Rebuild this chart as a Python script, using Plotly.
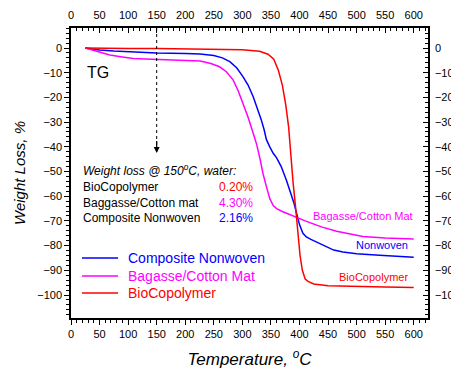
import plotly.graph_objects as go

# ---- data ----
bio_t = [25, 50, 100, 150, 200, 250, 300, 330, 345, 355, 363, 370, 376, 381, 385, 389, 393, 397, 401, 405, 410, 415, 425, 450, 500, 550, 600]
bio_w = [0, -0.1, -0.15, -0.2, -0.3, -0.4, -0.7, -1.3, -2.5, -4.5, -9, -15, -23, -32, -44, -55, -64, -74, -84, -90, -93.5, -94.5, -95.5, -96.2, -96.6, -96.8, -97]

comp_t = [25, 50, 75, 100, 125, 150, 200, 226, 250, 265, 278, 290, 301, 310, 319, 326, 333, 338, 342, 348, 354, 360, 368, 377, 384, 390, 395, 400, 406, 412, 420, 430, 445, 460, 476, 500, 540, 570, 600]
comp_w = [0, -0.8, -1.2, -1.5, -1.8, -2.0, -2.2, -2.4, -3, -4, -5.5, -8, -11.6, -15, -19.7, -24, -29, -33, -37, -40, -42.6, -44.5, -48, -53.4, -58, -62.5, -67, -71.5, -75, -76.5, -77.5, -78.5, -80.3, -81.8, -82.6, -83.3, -83.9, -84.3, -84.7]

bag_t = [25, 38, 50, 68, 90, 109, 130, 153, 200, 226, 245, 260, 272, 284, 293, 301, 310, 319, 325, 331, 336, 342, 348, 354, 360, 370, 380, 395, 410, 424, 440, 465, 490, 511, 550, 600]
bag_w = [0, -0.8, -1.6, -2.8, -3.6, -4.2, -4.45, -4.6, -4.9, -5.3, -6.3, -7.6, -9.6, -13, -17.5, -22.4, -28, -34.5, -39, -45, -50.7, -56, -61, -63.8, -65, -66.2, -67.2, -68.5, -70, -71.2, -72.5, -74.2, -75.5, -76.3, -76.9, -77.3]

x_range = [0, 625]
y_range = [-109.3, 8.1]
x_ticks = [0, 50, 100, 150, 200, 250, 300, 350, 400, 450, 500, 550, 600]
y_ticks = [0, -10, -20, -30, -40, -50, -60, -70, -80, -90, -100]

series_names = ["Composite Nonwoven", "Bagasse/Cotton Mat", "BioCopolymer"]
loss_names = ["BioCopolymer", "Baggasse/Cotton mat", "Composite Nonwoven"]
loss_vals = ["0.20%", "4.30%", "2.16%"]

BLUE = "#0000ff"
MAG = "#ff00ff"
RED = "#ff0000"
FONT = "Liberation Sans, Arial, sans-serif"
colors = [BLUE, MAG, RED]

fig = go.Figure()
for (t, w), name, col in zip([(comp_t, comp_w), (bag_t, bag_w), (bio_t, bio_w)], series_names, colors):
    fig.add_trace(go.Scatter(x=t, y=w, mode="lines", line=dict(color=col, width=1.5), name=name,
                             showlegend=False))
# empty trace to anchor the mirrored (top/right) axes
fig.add_trace(go.Scatter(x=[None], y=[None], xaxis="x2", yaxis="y2", showlegend=False, hoverinfo="skip"))

common_x = dict(range=x_range, tickvals=x_ticks, showline=True, linecolor="black", linewidth=1.5,
                ticklen=5, tickwidth=1, tickcolor="black", showgrid=False, zeroline=False, automargin=False,
                tickfont=dict(size=11, color="black", family=FONT),
                minor=dict(dtick=10, ticklen=3, tickwidth=1, tickcolor="black", ticks="outside", showgrid=False))
common_y = dict(range=y_range, tickvals=y_ticks, showline=True, linecolor="black", linewidth=1.5,
                ticklen=5, tickwidth=1, tickcolor="black", showgrid=False, zeroline=False, automargin=False,
                tickfont=dict(size=11, color="black", family=FONT),
                minor=dict(dtick=2, ticklen=3, tickwidth=1, tickcolor="black", ticks="outside", showgrid=False))

xb = dict(common_x); xb.update(ticks="outside",
          title=dict(text="<i>Temperature, <sup>o</sup>C</i>", font=dict(size=17, family=FONT, color="black"), standoff=18))
xt = dict(common_x); xt.update(ticks="inside", side="top", overlaying="x", anchor="y", ticklabelstandoff=3)
xt["minor"] = dict(common_x["minor"]); xt["minor"]["ticks"] = "inside"
yl = dict(common_y); yl.update(ticks="outside",
          title=dict(text="<i>Weight Loss, %</i>", font=dict(size=15, family=FONT, color="black"), standoff=8))
yr = dict(common_y); yr.update(ticks="inside", side="right", overlaying="y", anchor="x", ticklabelstandoff=3)
yr["minor"] = dict(common_y["minor"]); yr["minor"]["ticks"] = "inside"

# page body adds an 8 px offset, so the figure is 451x361 to fill the 459x369 window
fig.update_layout(
    width=451, height=361,
    margin=dict(l=63, r=31, t=20, b=51),
    paper_bgcolor="white", plot_bgcolor="white",
    font=dict(family=FONT, color="black"),
    xaxis=xb, xaxis2=xt, yaxis=yl, yaxis2=yr,
    showlegend=False,
)

# legend (drawn as sample lines + coloured labels)
leg_y = [-85.0, -92.3, -99.2]
for name, col, yy in zip(series_names, colors, leg_y):
    fig.add_shape(type="line", x0=19.3, x1=82.4, y0=yy, y1=yy, xref="x", yref="y",
                  line=dict(color=col, width=1.5))
    fig.add_annotation(x=97, y=yy, xref="x", yref="y", text=name, showarrow=False,
                       xanchor="left", yanchor="middle", font=dict(size=14, family=FONT, color=col))

# dotted vertical guide at 150 C with arrow
fig.add_shape(type="line", x0=150, x1=150, y0=y_range[1], y1=-40, xref="x", yref="y",
              line=dict(color="black", width=1, dash="dot"))
fig.add_annotation(x=150, y=-42.5, ax=150, ay=-37, xref="x", yref="y", axref="x", ayref="y",
                   text="", showarrow=True, arrowhead=2, arrowsize=1, arrowwidth=1.2, arrowcolor="black")

fig.add_annotation(x=25, y=-10, xref="x", yref="y", text="TG", showarrow=False,
                   xanchor="left", yanchor="middle", font=dict(size=16, family=FONT, color="black"))

fig.add_annotation(x=17.5, y=-49.4, xref="x", yref="y", text="<i>Weight loss @ 150<sup>o</sup>C, water:</i>",
                   showarrow=False, xanchor="left", yanchor="middle", font=dict(size=12, family=FONT, color="black"))
row_y = [-56.3, -62.8, -68.8]
val_colors = [RED, MAG, BLUE]
for name, val, yy, col in zip(loss_names, loss_vals, row_y, val_colors):
    fig.add_annotation(x=17.5, y=yy, xref="x", yref="y", text=name, showarrow=False,
                       xanchor="left", yanchor="middle", font=dict(size=12, family=FONT, color="black"))
    fig.add_annotation(x=256, y=yy, xref="x", yref="y", text=val, showarrow=False,
                       xanchor="left", yanchor="middle", font=dict(size=12, family=FONT, color=col))

fig.add_annotation(x=603, y=-68, xref="x", yref="y", text="Bagasse/Cotton Mat", showarrow=False,
                   xanchor="right", yanchor="middle", font=dict(size=11, family=FONT, color=MAG))
fig.add_annotation(x=594, y=-79.8, xref="x", yref="y", text="Nonwoven", showarrow=False,
                   xanchor="right", yanchor="middle", font=dict(size=11, family=FONT, color=BLUE))
fig.add_annotation(x=594, y=-92.7, xref="x", yref="y", text="BioCopolymer", showarrow=False,
                   xanchor="right", yanchor="middle", font=dict(size=11, family=FONT, color=RED))

fig.write_html("out.html")
